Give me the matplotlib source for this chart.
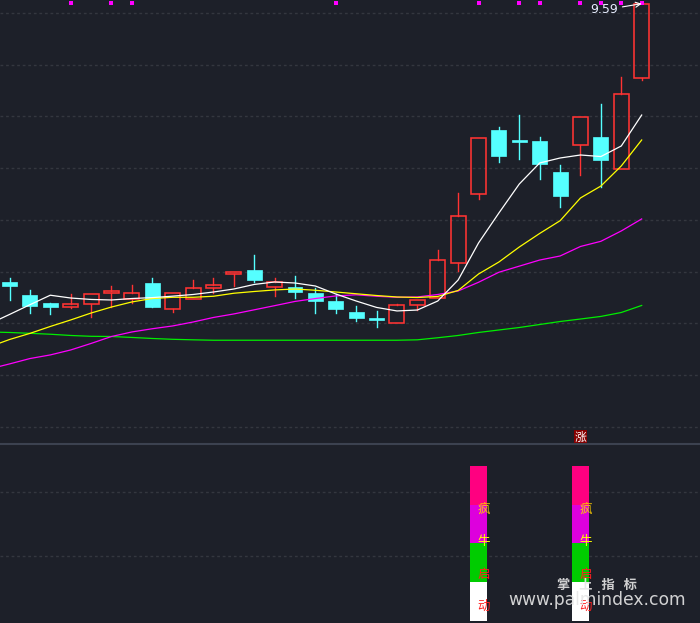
import matplotlib
matplotlib.use("Agg")
import matplotlib.pyplot as plt
from matplotlib.patches import Rectangle
from matplotlib.lines import Line2D
import numpy as np

# daily candles (32 sessions)
opens = [6.90, 6.775, 6.698, 6.662, 6.685, 6.792, 6.737, 6.891, 6.643, 6.74, 6.84,
         6.981, 7.017, 6.856, 6.85, 6.795, 6.717, 6.611, 6.553, 6.502, 6.676, 6.743,
         7.082, 7.748, 8.37, 8.273, 8.263, 7.964, 8.222, 8.302, 7.99, 8.875]
closes = [6.865, 6.672, 6.662, 6.685, 6.782, 6.811, 6.792, 6.662, 6.792, 6.84, 6.869,
          6.998, 6.923, 6.90, 6.807, 6.72, 6.64, 6.553, 6.537, 6.676, 6.727, 7.11,
          7.536, 8.289, 8.121, 8.256, 8.044, 7.735, 8.492, 8.08, 8.715, 9.59]
highs = [6.94, 6.82, 6.70, 6.785, 6.782, 6.862, 6.872, 6.94, 6.792, 6.92, 6.94,
         6.998, 7.162, 6.94, 6.959, 6.843, 6.782, 6.669, 6.621, 6.688, 6.727, 7.21,
         7.761, 8.289, 8.399, 8.514, 8.302, 8.031, 8.492, 8.621, 8.882, 9.59]
lows = [6.73, 6.604, 6.595, 6.65, 6.566, 6.662, 6.701, 6.662, 6.614, 6.74, 6.795,
        6.865, 6.904, 6.768, 6.749, 6.604, 6.604, 6.527, 6.469, 6.502, 6.63, 6.743,
        7.01, 7.70, 8.063, 8.092, 7.896, 7.628, 7.938, 7.822, 7.99, 8.853]

# moving averages, first value is the session before the visible window
ma5 = [6.495, 6.587, 6.681, 6.773, 6.746, 6.732, 6.727, 6.741, 6.750, 6.764, 6.780,
       6.804, 6.833, 6.877, 6.901, 6.891, 6.862, 6.785, 6.717, 6.655, 6.621, 6.630,
       6.717, 6.920, 7.278, 7.568, 7.848, 8.051, 8.099, 8.128, 8.113, 8.215, 8.514]
ma10 = [6.273, 6.345, 6.404, 6.471, 6.534, 6.601, 6.659, 6.708, 6.741, 6.753, 6.753,
        6.763, 6.792, 6.809, 6.824, 6.833, 6.821, 6.804, 6.787, 6.770, 6.756, 6.751,
        6.761, 6.819, 6.978, 7.094, 7.239, 7.370, 7.493, 7.713, 7.828, 8.022, 8.273]
ma20 = [6.060, 6.109, 6.161, 6.196, 6.244, 6.307, 6.374, 6.418, 6.449, 6.476, 6.514,
        6.558, 6.592, 6.632, 6.672, 6.713, 6.741, 6.766, 6.777, 6.763, 6.753, 6.756,
        6.780, 6.814, 6.898, 6.995, 7.054, 7.113, 7.152, 7.244, 7.294, 7.394, 7.510]
ma60 = [6.418, 6.413, 6.405, 6.396, 6.384, 6.376, 6.374, 6.365, 6.355, 6.347, 6.342,
        6.338, 6.338, 6.338, 6.338, 6.338, 6.338, 6.338, 6.338, 6.338, 6.338, 6.342,
        6.362, 6.384, 6.413, 6.437, 6.461, 6.490, 6.519, 6.543, 6.568, 6.606, 6.674]

dot_days = [3, 5, 6, 16, 23, 25, 26, 28, 29, 30, 31]   # magenta markers on top
signal_days = [23, 28]                                 # 疯牛启动 bars
signal_text = ["疯", "牛", "启", "动"]
signal_colors = ["#ff0080", "#dd00dd", "#00cc00", "#ffffff"]
text_colors = ["#ffcc00", "#ffff00", "#ff2020", "#ff2020"]
rise_day = 28

BG = "#1d2029"
GRID = "#34373f"
RED = "#ff3333"
CYAN = "#55ffff"
CJK = ["Noto Sans CJK SC", "DejaVu Sans"]

fig = plt.figure(figsize=(7, 6.23), dpi=100, facecolor=BG)
ax = fig.add_axes([0, 180 / 623, 1, 443 / 623])
ax2 = fig.add_axes([0, 0, 1, 178 / 623])
for a in (ax, ax2):
    a.set_facecolor(BG)
    a.set_xlim(-0.466, 33.86)
    a.axis("off")
ax.set_ylim(5.345, 9.6256)
ax2.set_ylim(-0.052, 4.542)

for p in np.arange(5.5, 9.51, 0.5):
    ax.axhline(p, color=GRID, lw=1, ls=(0, (2, 2)), zorder=0)
for p in [1.68, 3.33]:
    ax2.axhline(p, color=GRID, lw=1, ls=(0, (2, 2)), zorder=0)
fig.add_artist(Line2D([0, 1], [179 / 623] * 2, transform=fig.transFigure,
                      color="#3c4250", lw=1.5))

w = 0.735
x = np.arange(len(opens))
for i in x:
    o, c, h, l = opens[i], closes[i], highs[i], lows[i]
    top, bot = max(o, c), min(o, c)
    if c >= o:
        ax.plot([i, i], [top, h], color=RED, lw=1, zorder=2)
        ax.plot([i, i], [l, bot], color=RED, lw=1, zorder=2)
        if top - bot < 0.012:
            ax.plot([i - w / 2, i + w / 2], [c, c], color=RED, lw=1.6, zorder=2)
        else:
            ax.add_patch(Rectangle((i - w / 2, bot), w, top - bot, fill=False,
                                   ec=RED, lw=1.15, zorder=2))
    else:
        ax.plot([i, i], [l, h], color=CYAN, lw=1, zorder=2)
        if top - bot < 0.012:
            ax.plot([i - w / 2, i + w / 2], [c, c], color=CYAN, lw=2.2, zorder=2)
        else:
            ax.add_patch(Rectangle((i - w / 2, bot), w, top - bot, fc=CYAN,
                                   ec=CYAN, lw=0.5, zorder=2))

xm = np.arange(-1, len(opens))
ax.plot(xm, ma60, color="#00ee00", lw=0.9, zorder=3)
ax.plot(xm, ma20, color="#ff00ff", lw=0.9, zorder=3)
ax.plot(xm, ma10, color="#ffff00", lw=0.9, zorder=3)
ax.plot(xm, ma5, color="#ffffff", lw=0.9, zorder=3)

ax.plot(dot_days, [9.60] * len(dot_days), "s", color="#ff00ff", ms=2.4, mew=0)

ax.annotate("9.59", xy=(31, 9.59), xytext=(29.85, 9.53), color="#e8eeff",
            fontsize=9, ha="right", va="center",
            arrowprops=dict(arrowstyle="->", color="white", lw=0.8,
                            shrinkA=1, shrinkB=0))

ax.text(rise_day, 5.403, "涨", color="white", fontsize=8.5, ha="center",
        va="center", family=CJK,
        bbox=dict(boxstyle="square,pad=0.05", fc="#850000", ec="none"))

# lower panel: stacked signal bars
n = len(signal_colors)
for k, col in enumerate(signal_colors):
    ax2.bar(signal_days, [1] * len(signal_days), bottom=n - 1 - k, width=0.834,
            color=col, zorder=2)
label_y = [2.86, 2.04, 1.21, 0.37]
for d in signal_days:
    for s, col, yy in zip(signal_text, text_colors, label_y):
        ax2.text(d + 0.27, yy, s, color=col, fontsize=9, ha="center",
                 va="center", family=CJK, zorder=3)

# watermark
fig.text(597 / 700, 1 - 585 / 623, "掌   上   指   标", color="#e6e6e6", alpha=0.9,
         fontsize=9.5, fontweight="bold", ha="center", va="center", family=CJK)
fig.text(597 / 700, 1 - 600 / 623, "www.palmindex.com", color="#e6e6e6",
         alpha=0.9, fontsize=12.3, ha="center", va="center")

fig.savefig("out.png", dpi=100, facecolor=BG)
